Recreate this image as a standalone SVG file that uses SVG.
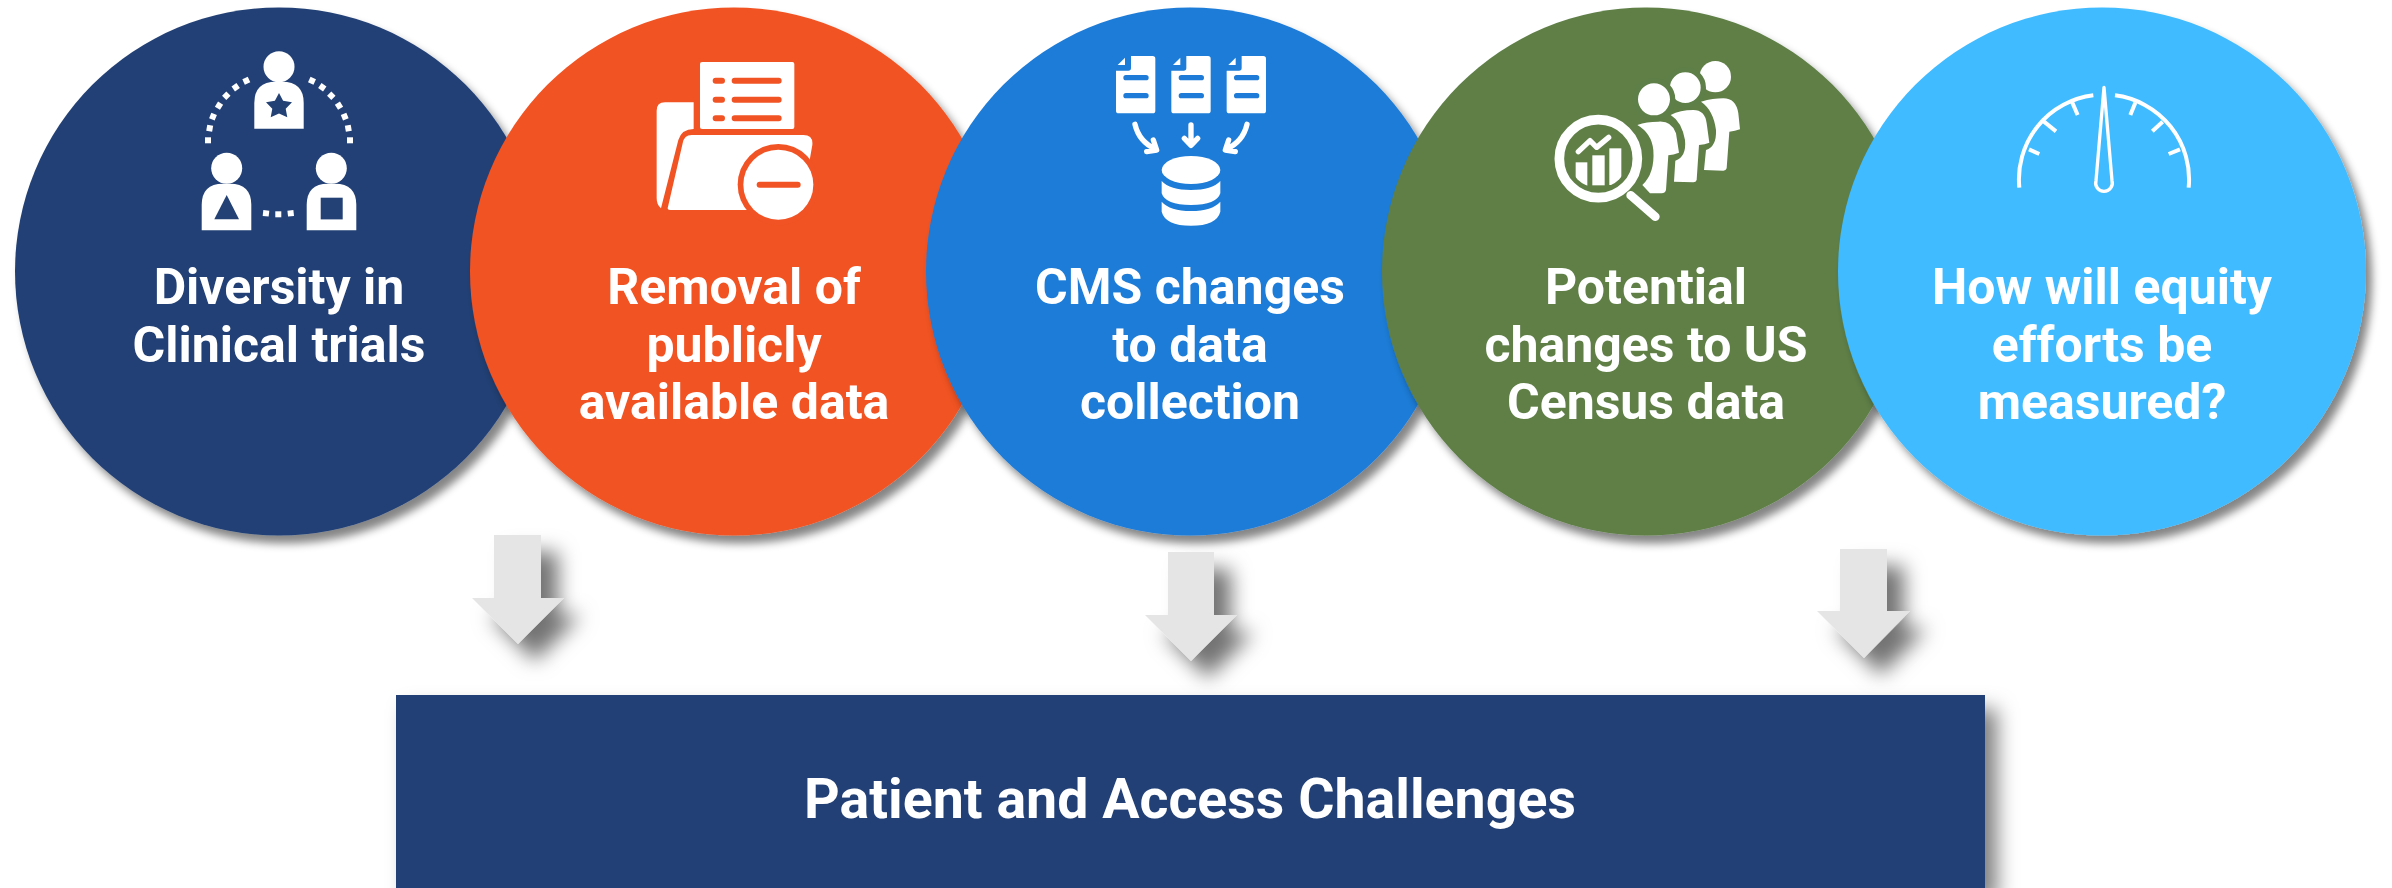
<svg xmlns="http://www.w3.org/2000/svg" width="2392" height="888" viewBox="0 0 2392 888">
<style>
.t{font-family:Roboto,"Liberation Sans",Arial,sans-serif;font-weight:700;font-size:50px;fill:#fff;text-anchor:middle}
.w{fill:#fff}
.s{fill:none;stroke:#fff;stroke-linecap:round;stroke-linejoin:round}
.d{fill:#fff;width:6px;height:6px}
</style>
<defs>
<filter id="cs" x="-10%" y="-10%" width="125%" height="125%"><feDropShadow dx="6" dy="8" stdDeviation="4" flood-color="#000" flood-opacity=".48"/></filter>
<filter id="as" x="-80%" y="-60%" width="300%" height="240%"><feDropShadow dx="17" dy="17" stdDeviation="10" flood-color="#000" flood-opacity=".55"/></filter>
<filter id="rs" x="-5%" y="-20%" width="110%" height="150%"><feDropShadow dx="12" dy="14" stdDeviation="10" flood-color="#000" flood-opacity=".5"/></filter>
<clipPath id="lens"><circle cx="205" cy="386" r="88"/></clipPath>
<path id="doc" d="M183,78H248q8,0 8,8V242q0,8 -8,8H146q-8,0 -8,-8V122H175q8,0 8,-8z"/>
</defs>
<g id="node-diversity">
<circle cx="279" cy="271.500" r="264" fill="#234175" filter="url(#cs)"/>
<circle class="w" cx="279" cy="66.700" r="15.500"/>
<path class="w" d="M254.300,128.700V103Q254.300,81.700 276,81.700H282Q303.700,81.700 303.700,103V128.700z"/>
<polygon fill="#234175" points="279,93 283.100,100.800 292,102.300 285.700,108.700 287.300,117.300 279,113.500 270.700,117.300 272.300,108.700 266,102.300 274.900,100.800"/>
<circle class="w" cx="226.700" cy="168.300" r="15.500"/>
<path class="w" d="M201.700,230.300V205Q201.700,183.700 223,183.700H230Q251.300,183.700 251.300,205V230.300z"/>
<polygon fill="#234175" points="226.700,195 214.300,219.300 239,219.300"/>
<circle class="w" cx="331.300" cy="168.300" r="15.500"/>
<path class="w" d="M306.700,230.300V205Q306.700,183.700 328,183.700H335Q356.300,183.700 356.300,205V230.300z"/>
<rect fill="#234175" x="320.700" y="197.700" width="22" height="21.700"/>
<rect class="d" x="263" y="210.300" transform="rotate(6 266 213.300)"/><rect class="d" x="275.300" y="211.300"/><rect class="d" x="287.700" y="210.300" transform="rotate(-6 290.700 213.300)"/>
<rect class="d" x="205" y="137.300"/><rect class="d" x="206.700" y="125.300" transform="rotate(10 209.700 128.300)"/><rect class="d" x="210" y="113.700" transform="rotate(22 213 116.700)"/><rect class="d" x="216" y="102.700" transform="rotate(32 219 105.700)"/><rect class="d" x="223.300" y="92.700" transform="rotate(45 226.300 95.700)"/><rect class="d" x="232.700" y="84.300" transform="rotate(55 235.700 87.300)"/><rect class="d" x="243.300" y="77.700" transform="rotate(65 246.300 80.700)"/>
<rect class="d" x="347" y="137.300"/><rect class="d" x="345.300" y="125.300" transform="rotate(-10 348.300 128.300)"/><rect class="d" x="341.700" y="113.700" transform="rotate(-22 344.700 116.700)"/><rect class="d" x="336" y="102.700" transform="rotate(-32 339 105.700)"/><rect class="d" x="328.300" y="92.700" transform="rotate(-45 331.300 95.700)"/><rect class="d" x="319.300" y="84.300" transform="rotate(-55 322.300 87.300)"/><rect class="d" x="309" y="77.700" transform="rotate(-65 312 80.700)"/>
<text class="t" x="279" y="304">Diversity in</text>
<text class="t" x="279" y="362">Clinical trials</text>
</g>
<g id="node-removal">
<circle cx="734" cy="271.500" r="264" fill="#F15324" filter="url(#cs)"/>
<g transform="translate(600,30) scale(.33333)">
<rect class="w" x="300" y="96" width="283" height="201" rx="6"/>
<path d="M347,152h19M404,152H536M347,209h19M404,209H536M347,265h19M404,265H536" fill="none" stroke="#F15324" stroke-width="18" stroke-linecap="round"/>
<path class="w" d="M281,217H195Q170,217 170,242V505Q170,525 183,535L235,330Q245,297 281,297z"/>
<path class="w" d="M262,315H610Q640,315 637,345L630,385V540H210Q200,540 204,530L248,340Q252,315 275,315z"/>
<circle cx="535" cy="464" r="122" fill="#F15324"/>
<circle class="w" cx="535" cy="464" r="105"/>
<path d="M479,464H593" fill="none" stroke="#F15324" stroke-width="18" stroke-linecap="round"/>
</g>
<text class="t" x="734" y="304">Removal of</text>
<text class="t" x="734" y="362">publicly</text>
<text class="t" x="734" y="419">available data</text>
</g>
<g id="node-cms">
<circle cx="1190" cy="271.500" r="264" fill="#1E7BD7" filter="url(#cs)"/>
<g transform="translate(1070,30) scale(.33333)">
<g class="w"><use href="#doc"/><use href="#doc" x="166"/><use href="#doc" x="332"/>
<path d="M143,105L165,83V105z"/><path d="M309,105L331,83V105z"/><path d="M475,105L497,83V105z"/></g>
<path d="M168,143H228M168,197H228M334,143H394M334,197H394M500,143H560M500,197H560" fill="none" stroke="#1E7BD7" stroke-width="16" stroke-linecap="round"/>
<path class="s" stroke-width="16" d="M363,285V345M343,325L363,346L383,325M195,283Q207,335 258,358M250,330L260,360L230,365M531,283Q519,335 468,358M476,330L466,360L496,365"/>
<ellipse class="w" cx="363" cy="420" rx="88" ry="42"/>
<path class="w" d="M275,453Q300,480 363,480Q426,480 451,453V490Q440,525 363,525Q286,525 275,490z"/>
<path class="w" d="M275,515Q300,543 363,543Q426,543 451,515V545Q440,587 363,587Q286,587 275,545z"/>
</g>
<text class="t" x="1190" y="304">CMS changes</text>
<text class="t" x="1190" y="362">to data</text>
<text class="t" x="1190" y="419">collection</text>
</g>
<g id="node-census">
<circle cx="1646" cy="271.500" r="264" fill="#5E7F47" filter="url(#cs)"/>
<g transform="translate(1530,30) scale(.33333)">
<circle class="w" cx="556" cy="140" r="47"/>
<path class="w" d="M513,215Q550,205 580,205Q618,205 625,250L630,298Q615,303 598,305L590,415Q588,422 580,422L522,420L528,360Q560,350 558,300Q550,240 513,215z"/>
<circle class="w" cx="466" cy="173" r="54" stroke="#5E7F47" stroke-width="16"/>
<path class="w" d="M422,255Q450,240 490,240Q525,240 530,280L538,338Q525,343 507,345L500,450Q498,457 490,457L432,455L436,392Q470,380 465,330Q455,275 422,255z"/>
<circle class="w" cx="372" cy="208" r="56" stroke="#5E7F47" stroke-width="16"/>
<path class="w" d="M322,285Q350,275 385,275Q425,272 438,310L447,368Q430,375 415,376L408,480Q405,490 395,490H360L337,465Q375,430 370,360Q365,310 322,285z"/>
<circle cx="205" cy="386" r="117" fill="none" stroke="#fff" stroke-width="29"/>
<path class="s" stroke-width="26" d="M302,496L376,560"/>
<g clip-path="url(#lens)" class="w"><rect x="137" y="397" width="35" height="70"/><rect x="187" y="376" width="37" height="90"/><rect x="238" y="355" width="36" height="110"/></g>
<path class="s" stroke-width="16" d="M145,365L180,332L200,352L236,322"/>
</g>
<text class="t" x="1646" y="304">Potential</text>
<text class="t" x="1646" y="362">changes to US</text>
<text class="t" x="1646" y="419">Census data</text>
</g>
<g id="node-equity">
<circle cx="2102" cy="271.500" r="264" fill="#41BBFF" filter="url(#cs)"/>
<g transform="translate(1980,60) scale(.33333)">
<path d="M118,383A254,254 0 0 1 340,106M405,106A254,254 0 0 1 626,383M147,268L178,282M192,185L228,214M277,128L293,165M466,128L451,165M548,185L517,214M600,268L566,282" fill="none" stroke="#fff" stroke-width="12"/>
<path d="M372,82L396,362A25,25 0 1 1 348,362Z" fill="none" stroke="#fff" stroke-width="10" stroke-linejoin="round"/>
</g>
<text class="t" x="2102" y="304">How will equity</text>
<text class="t" x="2102" y="362">efforts be</text>
<text class="t" x="2102" y="419">measured?</text>
</g>
<g id="connectors">
<path fill="#E5E5E5" filter="url(#as)" d="M494,535H541V598H564L518,644L472,598H494z"/>
<path fill="#E5E5E5" filter="url(#as)" d="M1168,552H1214V615H1237L1191,661L1145,615H1168z"/>
<path fill="#E5E5E5" filter="url(#as)" d="M1840,549H1887V611H1910L1864,658L1817,611H1840z"/>
</g>
<g id="node-challenges">
<rect x="396" y="695" width="1589" height="193" fill="#223F74" filter="url(#rs)"/>
<text class="t" x="1190" y="818" style="font-size:55.500px">Patient and Access Challenges</text>
</g>
</svg>
